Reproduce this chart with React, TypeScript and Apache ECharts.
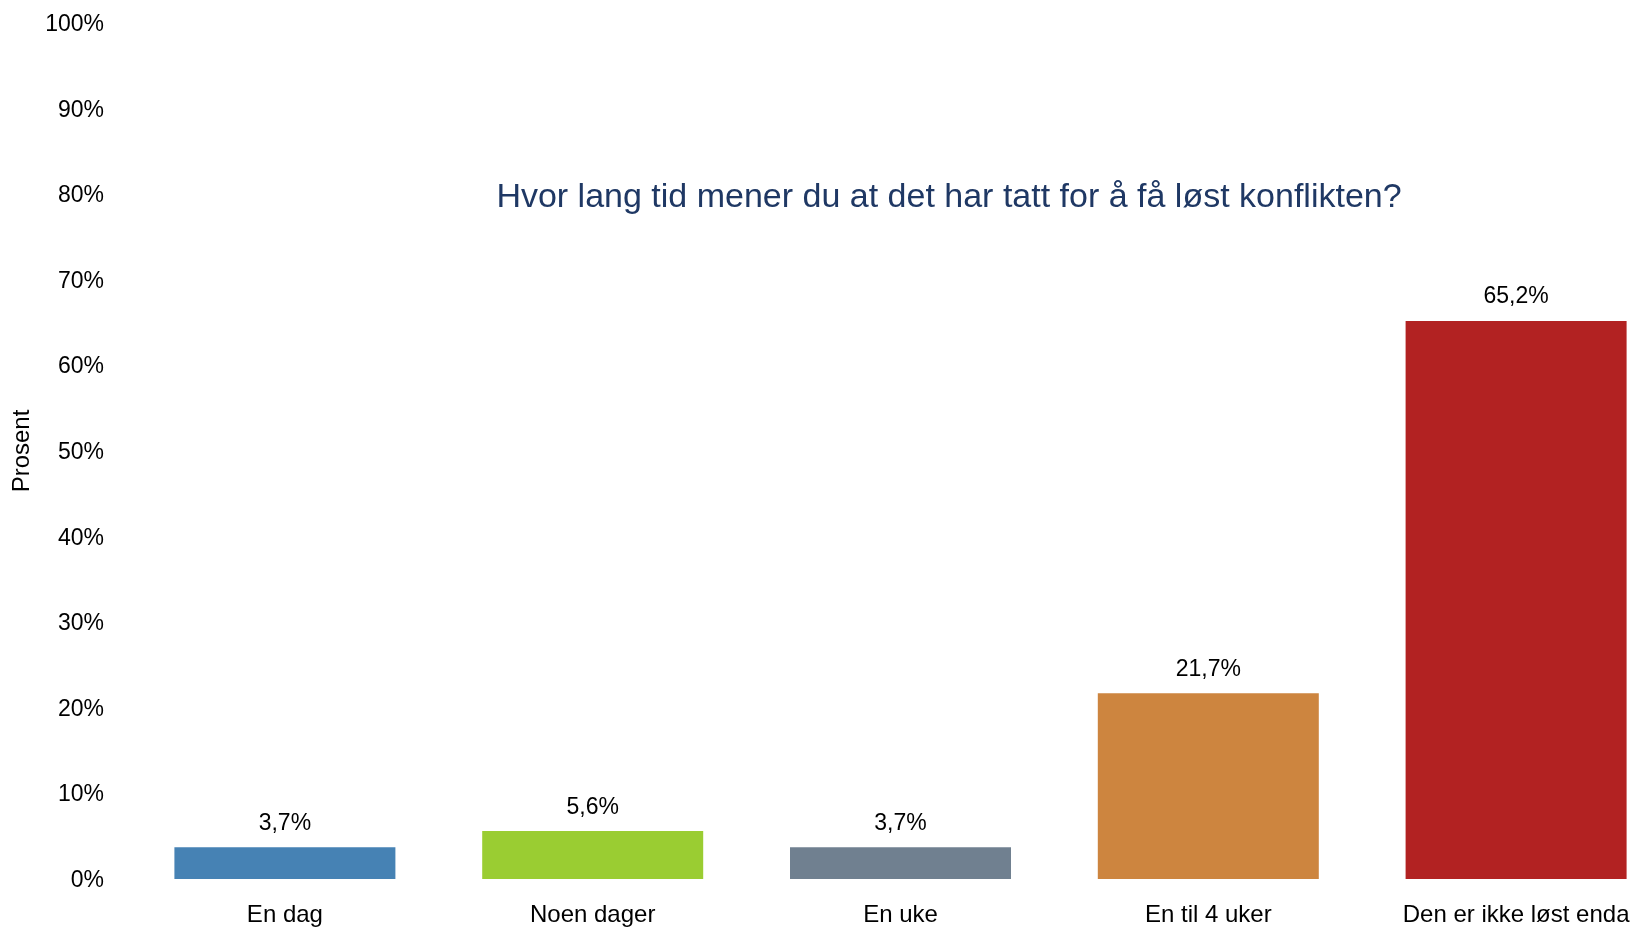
import React, { useEffect, useRef } from "react";
import * as echarts from "echarts";

const categories = ["En dag", "Noen dager", "En uke", "En til 4 uker", "Den er ikke løst enda"];
const values = [3.7, 5.6, 3.7, 21.7, 65.2];
const barColors = ["#4682B4", "#9ACD32", "#708090", "#CD853F", "#B22222"];
const yTicks = [0, 10, 20, 30, 40, 50, 60, 70, 80, 90, 100];
const titleText = "Hvor lang tid mener du at det har tatt for å få løst konflikten?";
const yAxisName = "Prosent";

const FONT = "Liberation Sans";

export default function App() {
  const ref = useRef<HTMLDivElement>(null);
  useEffect(() => {
    if (!ref.current) return;
    const chart = echarts.init(ref.current, null, { renderer: "svg" });
    chart.setOption({
      animation: false,
      title: {
        text: titleText,
        left: 944,
        top: 173,
        textAlign: "center",
        textStyle: { color: "#1F3864", fontFamily: FONT, fontSize: 34, fontWeight: "normal" },
      },
      grid: { left: 127, right: 0, top: 23, bottom: 49 },
      xAxis: {
        type: "category",
        data: categories,
        axisLine: { show: false },
        axisTick: { show: false },
        axisLabel: { color: "#000", fontFamily: FONT, fontSize: 24, margin: 22 },
      },
      yAxis: {
        type: "value",
        min: yTicks[0],
        max: yTicks[yTicks.length - 1],
        interval: 10,
        name: yAxisName,
        nameLocation: "middle",
        nameGap: 99,
        nameTextStyle: { color: "#000", fontFamily: FONT, fontSize: 24 },
        splitLine: { show: false },
        axisLine: { show: false },
        axisTick: { show: false },
        axisLabel: {
          color: "#000",
          fontFamily: FONT,
          fontSize: 23,
          margin: 27,
          formatter: (v: number) => v + "%",
        },
      },
      series: [
        {
          type: "bar",
          data: values.map((v, i) => ({ value: v, itemStyle: { color: barColors[i] } })),
          barWidth: 221,
          label: {
            show: true,
            position: "top",
            distance: 14,
            color: "#000",
            fontFamily: FONT,
            fontSize: 23,
            formatter: (p: any) => String(p.value).replace(".", ",") + "%",
          },
        },
      ],
    });
    return () => chart.dispose();
  }, []);
  return (
    <div style={{ position: "fixed", left: 0, top: 0, width: 1633, height: 928, overflow: "hidden" }}>
      <div ref={ref} style={{ width: 1670, height: 928 }} />
    </div>
  );
}
